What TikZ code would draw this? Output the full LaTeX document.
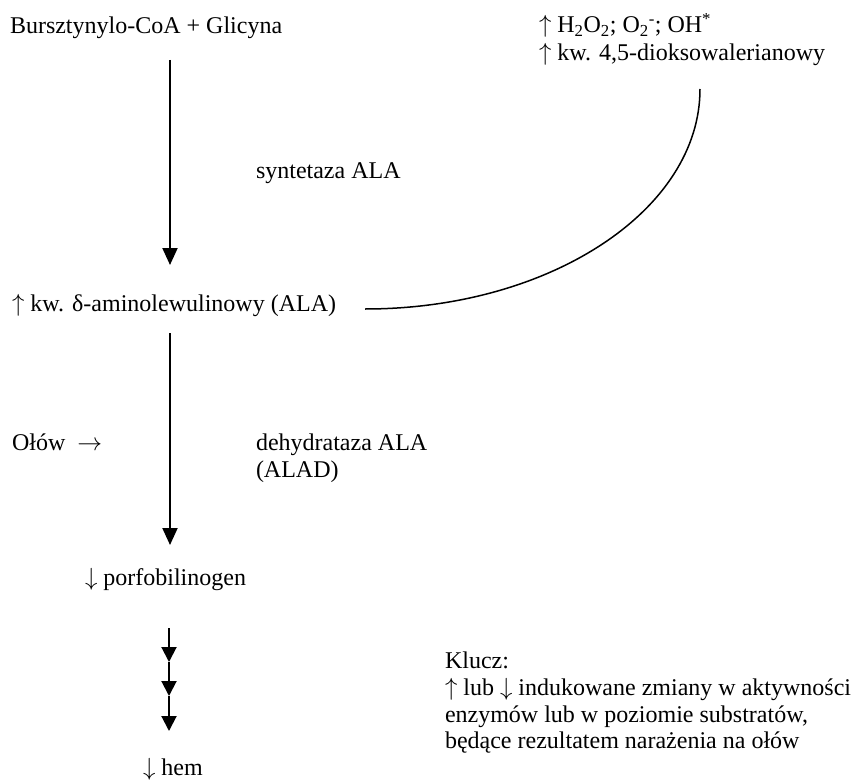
\documentclass[tikz,border=0pt]{standalone}
\usepackage{fontspec}
\setmainfont{Liberation Serif}
\usetikzlibrary{arrows.meta}
\newcommand{\upar}{\smash{$\uparrow$}}
\newcommand{\dnar}{\smash{$\downarrow$}}
\begin{document}
\begin{tikzpicture}[x=1bp,y=-1bp,
  txt/.style={anchor=base west,inner sep=0pt,outer sep=0pt,font=\fontsize{24bp}{27bp}\selectfont},
  flow/.style={line width=2bp,-{Triangle[width=15bp,length=17bp]}},
  shortflow/.style={line width=2bp,-{Triangle[width=15bp,length=15bp]}},
  link/.style={line width=1.5bp}]
\useasboundingbox (0,0) rectangle (851,781);
% texts
\node[txt] (sub) at (10,34) {Bursztynylo-CoA + Glicyna};
\node[txt] (ros1) at (539,33) {\upar\ H\textsubscript{2}O\textsubscript{2}; O\textsubscript{2}\textsuperscript{-}; OH\textsuperscript{*}};
\node[txt] (ros2) at (539,61) {\upar\ kw. 4,5-dioksowalerianowy};
\node[txt] (syn) at (256,178) {syntetaza ALA};
\node[txt] (ala) at (12,311) {\upar\ kw. δ-aminolewulinowy (ALA)};
\node[txt] (pb) at (12,450) {Ołów\ \ $\rightarrow$};
\node[txt] (alad1) at (256,450) {dehydrataza ALA};
\node[txt] (alad2) at (256,477) {(ALAD)};
\node[txt] (pbg) at (85,585) {\dnar\ porfobilinogen};
\node[txt] (hem) at (143,775) {\dnar\ hem};
\node[txt] (k1) at (445,668) {Klucz:};
\node[txt] (k2) at (445,695) {\upar\ lub \dnar\ indukowane zmiany w aktywności};
\node[txt] (k3) at (445,722) {enzymów lub w poziomie substratów,};
\node[txt] (k4) at (445,748) {będące rezultatem narażenia na ołów};
% arrow points
\coordinate (a1s) at (170,60);
\coordinate (a1e) at (170,265);
\coordinate (a2s) at (170,333);
\coordinate (a2e) at (170,545);
\coordinate (a3s) at (169,628);
\coordinate (a3a) at (169,662);
\coordinate (a3b) at (169,696);
\coordinate (a3e) at (169,731);
\coordinate (cs) at (365,309);
\coordinate (ce) at (700,89);
% connectors
\draw[flow] (a1s) -- (a1e);
\draw[flow] (a2s) -- (a2e);
\draw[shortflow] (a3s) -- (a3a);
\draw[shortflow] (a3a) -- (a3b);
\draw[shortflow] (a3b) -- (a3e);
\draw[link] (cs) .. controls (550,309) and (700,210) .. (ce);
\end{tikzpicture}
\end{document}
